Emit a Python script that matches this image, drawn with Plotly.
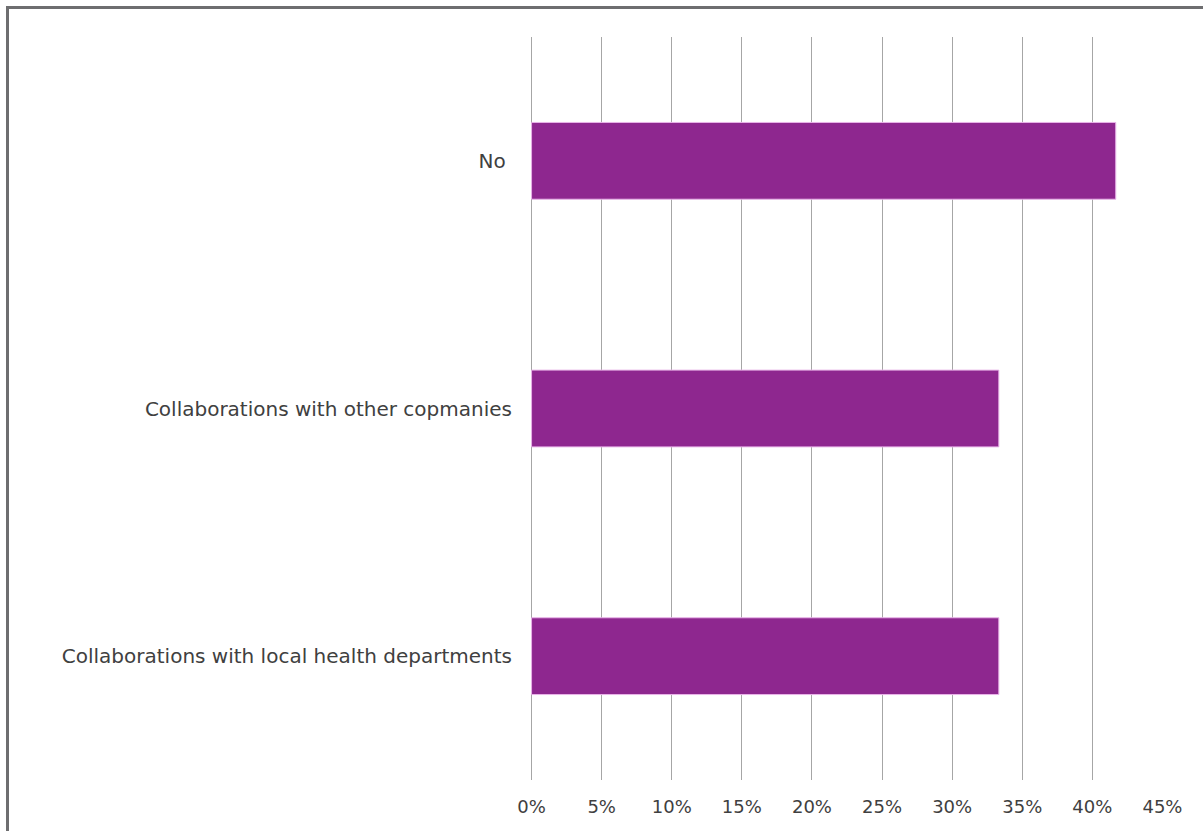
import plotly.graph_objects as go

categories = ["Collaborations with local health departments",
              "Collaborations with other copmanies",
              "No "]
values = [33.33, 33.33, 41.67]
tick_vals = [0, 5, 10, 15, 20, 25, 30, 35, 40, 45]
tick_text = ["0%", "5%", "10%", "15%", "20%", "25%", "30%", "35%", "40%", "45%"]

W, H = 1203, 831
ml, mr, mt, mb = 531, 40, 37, 51
pw, ph = W - ml - mr, H - mt - mb

fig = go.Figure(go.Bar(
    x=values, y=categories, orientation="h",
    marker=dict(color="#8E278F", line=dict(color="#E8B4E8", width=1)),
    hoverinfo="skip",
))

def px_x(p):
    return (p - ml) / pw

def px_y(p):
    return (H - mb - p) / ph

fig.update_layout(
    width=W, height=H,
    margin=dict(l=ml, r=mr, t=mt, b=mb, pad=0),
    paper_bgcolor="white", plot_bgcolor="white",
    bargap=0.69,
    showlegend=False,
    font=dict(family="DejaVu Sans, sans-serif", size=18, color="#404040"),
    xaxis=dict(range=[-0.04, 45.04], tickvals=tick_vals, ticktext=tick_text,
               showgrid=True, gridcolor="#A6A6A6", gridwidth=1,
               zeroline=True, zerolinecolor="#A6A6A6", zerolinewidth=1,
               showline=False, ticks="",
               tickfont=dict(size=18),
               ticklabelstandoff=14, fixedrange=True),
    yaxis=dict(showgrid=False, zeroline=False, showline=False, ticks="",
               tickfont=dict(size=20),
               ticklabelstandoff=18, fixedrange=True),
    shapes=[
        dict(type="line", xref="paper", yref="paper",
             x0=px_x(7.5), x1=px_x(1210), y0=px_y(7.5), y1=px_y(7.5),
             line=dict(color="#6E6E70", width=3)),
        dict(type="line", xref="paper", yref="paper",
             x0=px_x(7.5), x1=px_x(7.5), y0=px_y(6), y1=px_y(840),
             line=dict(color="#6E6E70", width=3)),
    ],
)

fig.write_html("out.html")
